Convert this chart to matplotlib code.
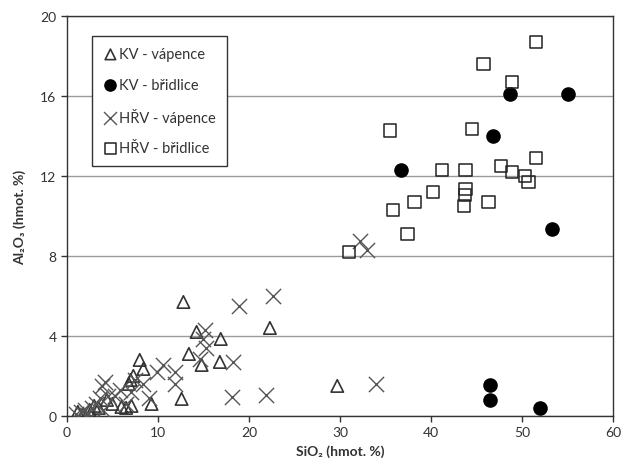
import matplotlib
matplotlib.use("Agg")
import matplotlib.pyplot as plt

plt.rcParams['font.family'] = ['Lato', 'DejaVu Sans']

# KV - vápence (triangles)
kv_vap_x = [1.2, 1.8, 2.5, 3.0, 3.5, 4.4, 5.0, 6.0, 6.5, 6.8, 7.0, 7.1, 7.3, 8.0, 8.4,
            9.3, 12.6, 12.8, 13.4, 14.25, 14.8, 16.8, 16.9, 22.3, 29.7]
kv_vap_y = [0.2, 0.1, 0.3, 0.5, 0.4, 0.8, 0.6, 0.45, 0.4, 1.6, 1.8, 0.5, 2.0, 2.8, 2.35,
            0.6, 0.85, 5.7, 3.1, 4.2, 2.55, 2.7, 3.85, 4.4, 1.5]

# KV - břidlice (filled circles)
kv_bri_x = [36.7, 46.8, 48.7, 55.0, 53.3, 46.5, 46.5, 52.0]
kv_bri_y = [12.3, 14.0, 16.1, 16.1, 9.35, 1.55, 0.8, 0.38]

# HŘV - vápence (crosses)
hrv_vap_x = [1.0, 1.5, 2.0, 2.2, 2.8, 3.2, 3.6, 3.85, 4.2, 4.0, 4.5, 5.3, 5.8, 6.5, 7.5,
             7.0, 8.4, 9.0, 9.9, 10.6, 11.9, 11.9, 14.6, 15.0, 15.2, 15.3, 18.1, 18.2,
             18.9, 21.9, 22.6, 32.2, 33.0, 34.0]
hrv_vap_y = [0.1, 0.2, 0.3, 0.05, 0.4, 0.6, 0.9, 1.5, 1.7, 0.3, 1.0, 1.0, 1.3, 0.6, 1.8,
             1.2, 1.6, 0.9, 2.2, 2.55, 2.2, 1.6, 2.85, 3.85, 4.3, 3.4, 0.93, 2.7,
             5.5, 1.05, 6.0, 8.75, 8.3, 1.6]

# HŘV - břidlice (open squares)
hrv_bri_x = [51.5, 45.75, 48.9, 35.5, 44.5, 51.5, 47.7, 48.9, 50.3, 50.7, 41.2, 43.8,
             43.8, 43.7, 43.6, 40.2, 38.2, 35.8, 46.3, 37.4, 31.0]
hrv_bri_y = [18.7, 17.6, 16.7, 14.27, 14.35, 12.9, 12.5, 12.2, 12.0, 11.7, 12.3, 12.3,
             11.35, 11.05, 10.5, 11.2, 10.7, 10.3, 10.7, 9.1, 8.2]

x_ticks = [0, 10, 20, 30, 40, 50, 60]
y_ticks = [0, 4, 8, 12, 16, 20]

fig = plt.figure(figsize=(6.25, 4.77), dpi=100)
ax = fig.add_axes([0.107, 0.126, 0.874, 0.838])

ax.scatter(kv_vap_x, kv_vap_y, marker='^', s=80, facecolors='none',
           edgecolors='#333333', linewidths=1.2, label='KV - vápence', zorder=3)
ax.scatter(kv_bri_x, kv_bri_y, marker='o', s=90, color='black',
           label='KV - břidlice', zorder=3)
ax.scatter(hrv_vap_x, hrv_vap_y, marker='x', s=120, color='#555555',
           linewidths=1.0, label='HŘV - vápence', zorder=3)
ax.scatter(hrv_bri_x, hrv_bri_y, marker='s', s=80, facecolors='none',
           edgecolors='#222222', linewidths=1.1, label='HŘV - břidlice', zorder=3)

ax.set_xlim(0, 60)
ax.set_ylim(0, 20)
ax.set_xticks(x_ticks)
ax.set_yticks(y_ticks)
ax.tick_params(labelsize=10, colors='#333333', length=4, width=1)
ax.yaxis.grid(True, color='#9a9a9a', linewidth=1)
ax.set_axisbelow(True)
for sp in ax.spines.values():
    sp.set_color('#333333')
    sp.set_linewidth(1)

ax.set_xlabel('SiO₂ (hmot. %)', fontsize=10, fontweight='bold', color='#333333')
ax.set_ylabel('Al₂O₃ (hmot. %)', fontsize=10, fontweight='bold', color='#333333',
              labelpad=10)

leg = ax.legend(loc='upper left', bbox_to_anchor=(0.033, 0.968), fontsize=10.5,
                handletextpad=0.1, handlelength=1.0, borderpad=0.75,
                labelspacing=1.12, fancybox=False, framealpha=1,
                edgecolor='#333333', scatterpoints=1, markerscale=0.85)
leg.get_frame().set_linewidth(1)
for t in leg.get_texts():
    t.set_color('#333333')

fig.savefig('out.png', dpi=100)
